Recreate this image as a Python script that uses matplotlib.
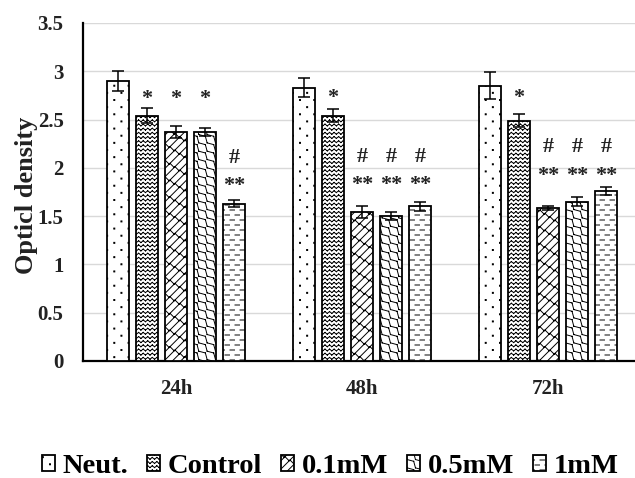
import warnings
warnings.filterwarnings('ignore')
import numpy as np
import matplotlib
matplotlib.use('Agg')
import matplotlib.pyplot as plt
import matplotlib.hatch as mhatch
from matplotlib.path import Path

# ---------------- data ----------------
groups = ['24h', '48h', '72h']
series = ['Neut.', 'Control', '0.1mM', '0.5mM', '1mM']
neut = [2.90, 2.83, 2.85]
control = [2.54, 2.54, 2.49]
mm01 = [2.37, 1.54, 1.58]
mm05 = [2.37, 1.50, 1.65]
mm1 = [1.63, 1.60, 1.76]
neut_err = [0.10, 0.10, 0.14]
control_err = [0.08, 0.07, 0.07]
mm01_err = [0.06, 0.06, 0.02]
mm05_err = [0.04, 0.04, 0.05]
mm1_err = [0.04, 0.05, 0.04]
# significance marks per group, per series
star_marks = [['', '*', '*', '*', '**'],
              ['', '*', '**', '**', '**'],
              ['', '*', '**', '**', '**']]
star_y = [[0, 2.755, 2.755, 2.755, 1.854],
          [0, 2.765, 1.864, 1.864, 1.864],
          [0, 2.765, 1.957, 1.957, 1.957]]
hash_marks = [['', '', '', '', '#'],
              ['', '', '#', '#', '#'],
              ['', '', '#', '#', '#']]
hash_y = [[0, 0, 0, 0, 2.123],
          [0, 0, 2.133, 2.133, 2.133],
          [0, 0, 2.237, 2.237, 2.237]]
yticks = [0, 0.5, 1, 1.5, 2, 2.5, 3, 3.5]
ytick_labels = ['0', '0.5', '1', '1.5', '2', '2.5', '3', '3.5']
ylabel = 'Opticl density'

values = [neut, control, mm01, mm05, mm1]
errors = [neut_err, control_err, mm01_err, mm05_err, mm1_err]


# ---------------- custom hatch patterns ----------------
class _SegHatch(mhatch.HatchPatternBase):
    char = None

    def __init__(self, hatch, density):
        n = hatch.count(self.char) if hatch else 0
        if n:
            self.segs, self.polys = self.build()
        else:
            self.segs, self.polys = [], []
        self.num_vertices = 2 * len(self.segs) + 5 * len(self.polys)

    def build(self):
        return [], []

    def set_vertices_and_codes(self, vertices, codes):
        i = 0
        for p, q in self.segs:
            vertices[i] = p
            vertices[i + 1] = q
            codes[i] = Path.MOVETO
            codes[i + 1] = Path.LINETO
            i += 2
        for poly in self.polys:
            vertices[i:i + 4] = poly
            vertices[i + 4] = poly[0]
            codes[i] = Path.MOVETO
            codes[i + 1:i + 4] = Path.LINETO
            codes[i + 4] = Path.CLOSEPOLY
            i += 5


class DotHatch(_SegHatch):
    char = 'a'

    def build(self):
        T = 1 / 7
        r = 0.005
        polys = []
        for i in range(0, 8):
            for j in range(0, 8):
                for (cx, cy) in [(i * T, j * T), ((i + 0.5) * T, (j + 0.5) * T)]:
                    polys.append([(cx - r, cy - r), (cx + r, cy - r),
                                  (cx + r, cy + r), (cx - r, cy + r)])
        return [], polys


class ZigHatch(_SegHatch):
    char = 'b'

    def build(self):
        P = 1 / 22
        rows = 24
        A = 0.009
        segs = []
        for j in range(0, rows + 1):
            y = j / rows
            pts = [(k * P / 2, y + (A if k % 2 else -A)) for k in range(0, 45)]
            for a, b in zip(pts[:-1], pts[1:]):
                segs.append((a, b))
        return segs, []


class BrickHatch(_SegHatch):
    char = 'c'

    def build(self):
        s = 1 / 12
        P = 1 / 10
        segs = []
        for k in range(-14, 15):
            segs.append(((k * s - 0.2, -0.2), (k * s + 1.2, 1.2)))
        for k in range(-14, 15):
            for j in range(-4, 14):
                x0 = j * P + (k % 2) * P / 2
                y0 = x0 - k * s
                if -0.2 < x0 < 1.2 and -0.2 < y0 < 1.2:
                    segs.append(((x0, y0), (x0 + s / 2, y0 - s / 2)))
        return segs, []


class WeaveHatch(_SegHatch):
    char = 'e'

    def build(self):
        s = 1 / 12
        P = 1 / 12
        A = 0.017
        segs = []
        n = np.sqrt(0.5)
        for k in range(-2, 28):
            pts = []
            for i in range(-6, 32):
                x = i * P / 2
                off = A if i % 2 else -A
                pts.append((x + off * n, k * s - x + off * n))
            for a, b in zip(pts[:-1], pts[1:]):
                segs.append((a, b))
        return segs, []


class DashHatch(_SegHatch):
    char = 'd'

    def build(self):
        segs = []
        for j in range(0, 21):
            y = j / 20
            for i in range(-1, 11):
                x0 = i * 0.1 + (j % 2) * 0.05
                segs.append(((x0, y), (x0 + 0.045, y)))
        return segs, []


mhatch._hatch_types.extend([DotHatch, ZigHatch, BrickHatch, WeaveHatch, DashHatch])
hatches = ['a', 'b', 'c', 'e', 'd']

# ---------------- plot ----------------
plt.rcParams['hatch.linewidth'] = 0.7
plt.rcParams['font.family'] = ['Liberation Serif', 'DejaVu Serif']
plt.rcParams['font.weight'] = 'bold'

fig = plt.figure(figsize=(6.35, 4.78), dpi=100)
ax = fig.add_axes([83 / 635, 117 / 478, 552 / 635, 338 / 478])

x = np.arange(len(groups))
step = 0.156
width = 0.118
offsets = (np.arange(len(series)) - 2) * step

handles = []
for i, (name, vals, errs, h) in enumerate(zip(series, values, errors, hatches)):
    b = ax.bar(x + offsets[i], vals, width, yerr=errs, label=name,
               color='white', edgecolor='black', linewidth=1.3, hatch=h,
               error_kw=dict(ecolor='black', elinewidth=1.1, capsize=4.3, capthick=1.1),
               zorder=3)
    handles.append(b)

for g in range(len(groups)):
    for i in range(len(series)):
        if star_marks[g][i]:
            ax.annotate(star_marks[g][i], (x[g] + offsets[i], star_y[g][i]),
                        xytext=(0, -6.8), textcoords='offset points',
                        ha='center', va='baseline', fontsize=16, fontweight='bold',
                        color='#222222', zorder=4)
        if hash_marks[g][i]:
            ax.annotate(hash_marks[g][i], (x[g] + offsets[i], hash_y[g][i]),
                        xytext=(0, -5.2), textcoords='offset points',
                        ha='center', va='baseline', fontsize=16, fontweight='bold',
                        color='#222222', zorder=4)

ax.set_xlim(-0.5, -0.5 + 552 / 186)
ax.set_ylim(0, 3.5)
ax.set_yticks(yticks)
ax.set_yticklabels(ytick_labels)
ax.set_xticks(x)
ax.set_xticklabels(groups)
ax.tick_params(axis='both', length=0, labelsize=15)
ax.tick_params(axis='y', pad=14)
ax.tick_params(axis='x', pad=13)
for lab in ax.get_xticklabels() + ax.get_yticklabels():
    lab.set_fontweight('bold')
    lab.set_color('#222222')

ax.yaxis.grid(True, color='#d9d9d9', linewidth=1.0, zorder=0)
ax.set_axisbelow(True)
for sp in ['top', 'right']:
    ax.spines[sp].set_visible(False)
ax.spines['left'].set_linewidth(1.6)
ax.spines['bottom'].set_linewidth(1.6)

ax.set_ylabel(ylabel, fontsize=19, fontweight='bold', color='#222222')
ax.yaxis.set_label_coords(-0.0815, 0.49)

fig.legend(handles, series, loc='center', bbox_to_anchor=(0.52, 0.024),
           ncol=5, frameon=False,
           prop=dict(family='Liberation Serif', weight='bold', size=20.5),
           handlelength=0.46, handleheight=0.46, handletextpad=0.27,
           columnspacing=0.66, borderaxespad=0, borderpad=0)

fig.savefig('out.png', dpi=100)
